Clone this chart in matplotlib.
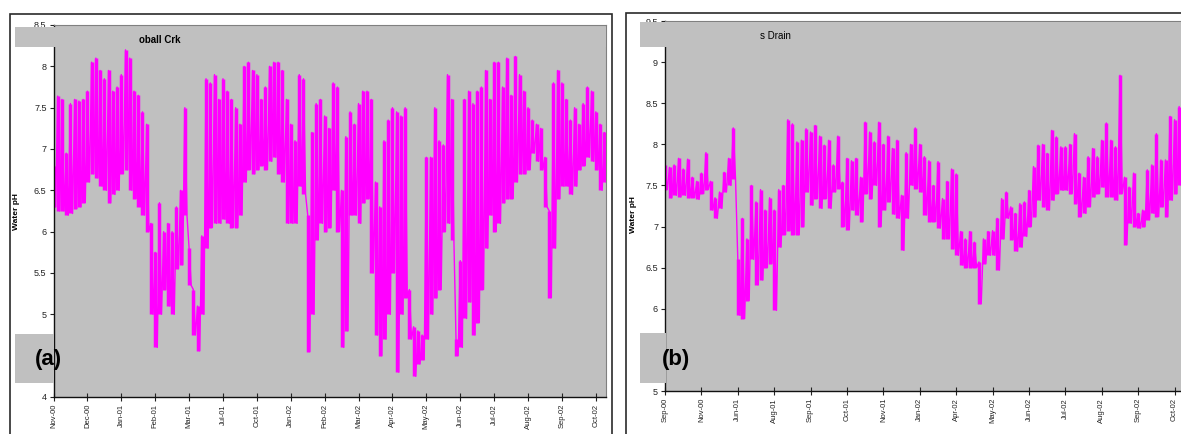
import numpy as np
import matplotlib.pyplot as plt
from matplotlib.patches import Rectangle

plt.rcParams['font.family'] = ['Liberation Sans', 'DejaVu Sans']

# (a) daily max / min pH, read every 1/8 of a tick interval
labels_a = ['Nov-00', 'Dec-00', 'Jan-01', 'Feb-01', 'Mar-01', 'Jul-01', 'Oct-01',
            'Jan-02', 'Feb-02', 'Mar-02', 'Apr-02', 'May-02', 'Jun-02', 'Jul-02',
            'Aug-02', 'Sep-02', 'Oct-02']
hi_a = [6.8, 7.64, 7.6, 6.95, 7.55, 7.6, 7.58, 7.6,
        7.7, 8.05, 8.1, 7.95, 7.85, 7.95, 7.7, 7.75,
        7.9, 8.2, 8.1, 7.7, 7.65, 7.45, 7.3, 6.1,
        5.75, 6.35, 6.0, 6.1, 6.0, 6.3, 6.5, 7.5,
        5.8, 5.3, 5.1, 5.95, 7.85, 7.8, 7.9, 7.6,
        7.85, 7.7, 7.6, 7.5, 7.3, 8.0, 8.05, 7.95,
        7.9, 7.6, 7.75, 8.0, 8.05, 8.05, 7.95, 7.6,
        7.3, 7.1, 7.9, 7.85, 6.2, 7.2, 7.55, 7.6,
        7.4, 7.25, 7.8, 7.75, 6.5, 7.15, 7.45, 7.3,
        7.55, 7.7, 7.7, 7.6, 6.6, 6.3, 7.1, 7.35,
        7.5, 7.45, 7.4, 7.5, 5.3, 4.85, 4.8, 4.75,
        6.9, 6.9, 7.5, 7.1, 7.05, 7.9, 7.6, 4.7,
        5.65, 7.6, 7.7, 7.55, 7.7, 7.75, 7.95, 7.6,
        8.05, 8.05, 7.75, 8.1, 7.65, 8.12, 7.9, 7.7,
        7.5, 7.35, 7.3, 7.25, 6.9, 6.25, 7.8, 7.95,
        7.8, 7.6, 7.35, 7.5, 7.3, 7.55, 7.75, 7.7,
        7.45, 7.3, 7.2]
lo_a = [6.3, 6.25, 6.25, 6.2, 6.22, 6.28, 6.3, 6.35,
        6.6, 6.7, 6.65, 6.55, 6.5, 6.35, 6.45, 6.5,
        6.7, 6.75, 6.5, 6.4, 6.3, 6.2, 6.0, 5.0,
        4.6, 5.0, 5.3, 5.1, 5.0, 5.55, 5.6, 6.2,
        5.35, 4.75, 4.56, 5.0, 5.8, 6.05, 6.1, 6.1,
        6.15, 6.1, 6.05, 6.05, 6.2, 6.6, 6.75, 6.7,
        6.75, 6.8, 6.75, 6.85, 6.9, 6.7, 6.6, 6.1,
        6.1, 6.1, 6.55, 6.45, 4.55, 5.0, 5.9, 6.1,
        6.0, 6.05, 6.5, 6.0, 4.6, 4.8, 6.2, 6.2,
        6.1, 6.35, 6.4, 5.5, 4.75, 4.5, 4.7, 5.0,
        5.5, 4.3, 5.0, 5.2, 4.7, 4.25, 4.4, 4.45,
        4.7, 5.0, 5.2, 5.3, 6.0, 6.1, 5.9, 4.5,
        4.6, 4.95, 5.15, 4.75, 4.9, 5.3, 5.8, 6.2,
        6.0, 6.1, 6.35, 6.4, 6.4, 6.6, 6.7, 6.7,
        6.75, 6.95, 6.85, 6.75, 6.3, 5.2, 5.8, 6.4,
        6.55, 6.55, 6.45, 6.55, 6.75, 6.8, 6.9, 6.85,
        6.75, 6.5, 6.6]

# (b)
labels_b = ['Sep-00', 'Nov-00', 'Jun-01', 'Aug-01', 'Sep-01', 'Oct-01', 'Nov-01',
            'Jan-02', 'Apr-02', 'May-02', 'Jun-02', 'Jul-02', 'Aug-02', 'Sep-02',
            'Oct-02']
hi_b = [7.75, 7.72, 7.75, 7.83, 7.7, 7.82, 7.6, 7.55,
        7.65, 7.9, 7.55, 7.35, 7.42, 7.66, 7.83, 8.2,
        6.6, 7.1, 6.85, 7.5, 7.3, 7.45, 7.2, 7.35,
        7.2, 7.45, 7.5, 8.3, 8.25, 8.03, 8.05, 8.19,
        8.15, 8.23, 8.1, 7.99, 8.05, 7.75, 8.1, 7.54,
        7.83, 7.8, 7.83, 7.6, 8.27, 8.15, 8.03, 8.27,
        8.0, 8.1, 7.95, 8.05, 7.38, 7.9, 8.0, 8.2,
        8.0, 7.85, 7.8, 7.5, 7.79, 7.34, 7.55, 7.7,
        7.64, 6.94, 6.85, 6.94, 6.81, 6.57, 6.85, 6.94,
        6.95, 7.1, 7.34, 7.42, 7.24, 7.16, 7.28, 7.3,
        7.44, 7.73, 7.99, 8.0, 7.89, 8.17, 8.09, 7.97,
        7.97, 8.0, 8.13, 7.65, 7.6, 7.85, 7.95, 7.85,
        8.05, 8.26, 8.05, 7.97, 8.84, 7.6, 7.48, 7.65,
        7.16, 7.2, 7.69, 7.75, 8.13, 7.81, 7.81, 8.34,
        8.3, 8.46, 8.4]
lo_b = [7.45, 7.35, 7.38, 7.36, 7.38, 7.35, 7.35, 7.33,
        7.4, 7.45, 7.2, 7.1, 7.22, 7.42, 7.5, 7.58,
        5.92, 5.88, 6.1, 6.6, 6.29, 6.35, 6.5, 6.55,
        5.98, 6.75, 6.9, 6.95, 6.9, 6.9, 7.0, 7.42,
        7.26, 7.34, 7.22, 7.34, 7.22, 7.42, 7.46, 7.0,
        6.96, 7.2, 7.14, 7.06, 7.4, 7.34, 7.5, 7.0,
        7.2, 7.3, 7.15, 7.1, 6.71, 7.1, 7.5, 7.46,
        7.42, 7.14, 7.06, 7.06, 6.98, 6.85, 6.85, 6.73,
        6.65, 6.53, 6.5, 6.5, 6.5, 6.06, 6.55, 6.65,
        6.65, 6.47, 6.85, 7.1, 6.84, 6.7, 6.75, 6.88,
        7.0, 7.12, 7.32, 7.24, 7.2, 7.32, 7.4, 7.44,
        7.44, 7.4, 7.28, 7.12, 7.16, 7.24, 7.36, 7.4,
        7.48, 7.36, 7.36, 7.32, 7.4, 6.78, 7.04, 7.0,
        6.98, 7.0, 7.08, 7.16, 7.12, 7.24, 7.12, 7.32,
        7.4, 7.5, 7.5]

W, H = 1181, 434
GREY = '#c0c0c0'
MAG = '#ff00ff'
fig = plt.figure(figsize=(W / 100, H / 100), dpi=100)


def box(x0, y0, x1, y1):
    # pixel box (from top-left) -> figure fraction rect
    return [x0 / W, 1 - y1 / H, (x1 - x0) / W, (y1 - y0) / H]


def draw_panel(rect, hi, lo, labels, ylim, xmax, hidden):
    ax = fig.add_axes(rect)
    ax.set_facecolor(GREY)
    step = 1 / 8
    pos = np.arange(len(hi)) * step
    # daily swing: a column per reading plus a max/min zigzag
    ax.vlines(pos, lo, hi, color=MAG, lw=2.5)
    x = np.column_stack([pos, pos + step / 2]).ravel()
    y = np.column_stack([hi, lo]).ravel()
    ax.plot(x, y, color=MAG, lw=1.0)
    ax.set_xlim(0, xmax)
    ax.set_ylim(*ylim)
    yt = np.arange(ylim[0], ylim[1] + 0.01, 0.5)
    ax.set_yticks(yt)
    # the label that sits under the (a)/(b) box is not shown
    ax.set_yticklabels(['' if v == hidden else '%g' % v for v in yt])
    ax.set_xticks(range(len(labels)))
    ax.set_xticklabels(labels, rotation=90)
    ax.tick_params(axis='y', direction='out', length=3, width=0.8, pad=2,
                   labelsize=6.5, colors='#222222')
    ax.tick_params(axis='x', direction='inout', length=6, width=0.8, pad=2,
                   labelsize=5.5, colors='#222222')
    for s in ['left', 'bottom']:
        ax.spines[s].set_color('#111111')
        ax.spines[s].set_linewidth(1.0)
    for s in ['top', 'right']:
        ax.spines[s].set_color('#808080')
        ax.spines[s].set_linewidth(0.8)
    return ax


draw_panel(box(53.5, 25, 606, 397), hi_a, lo_a, labels_a, (4, 8.5), 16.3, 4.5)
draw_panel(box(665, 21, 1211, 391), hi_b, lo_b, labels_b, (5, 9.5), 15, 5.5)

# outer frames of the two pasted charts
for x0, y0, x1 in [(10, 14, 612), (626, 13, 1300)]:
    fig.add_artist(Rectangle((x0 / W, 1 - 470 / H), (x1 - x0) / W, (470 - y0) / H,
                             transform=fig.transFigure, fill=False,
                             ec='#2a2a2a', lw=1.2, zorder=1))

# grey title bands and panel letter boxes
for x0, y0, x1, y1 in [(15, 27, 606, 47), (640, 22, 1190, 47),
                       (15, 334, 54, 383), (640, 333, 666, 383)]:
    r = box(x0, y0, x1, y1)
    fig.add_artist(Rectangle((r[0], r[1]), r[2], r[3], transform=fig.transFigure,
                             fc=GREY, ec='none', zorder=2))

fig.text(160 / W, 1 - 40 / H, 'oball Crk', ha='center', va='center',
         fontsize=7, fontweight='bold', zorder=3)
fig.text(775 / W, 1 - 36 / H, 's Drain', ha='center', va='center',
         fontsize=7, zorder=3)
fig.text(48 / W, 1 - 360 / H, '(a)', ha='center', va='center',
         fontsize=16, fontweight='bold', zorder=3)
fig.text(676 / W, 1 - 360 / H, '(b)', ha='center', va='center',
         fontsize=16, fontweight='bold', zorder=3)
fig.text(17 / W, 1 - 212 / H, 'Water pH', rotation=90, ha='center', va='center',
         fontsize=6, fontweight='bold')
fig.text(634 / W, 1 - 215 / H, 'Water pH', rotation=90, ha='center', va='center',
         fontsize=6, fontweight='bold')

fig.savefig('out.png', dpi=100)
